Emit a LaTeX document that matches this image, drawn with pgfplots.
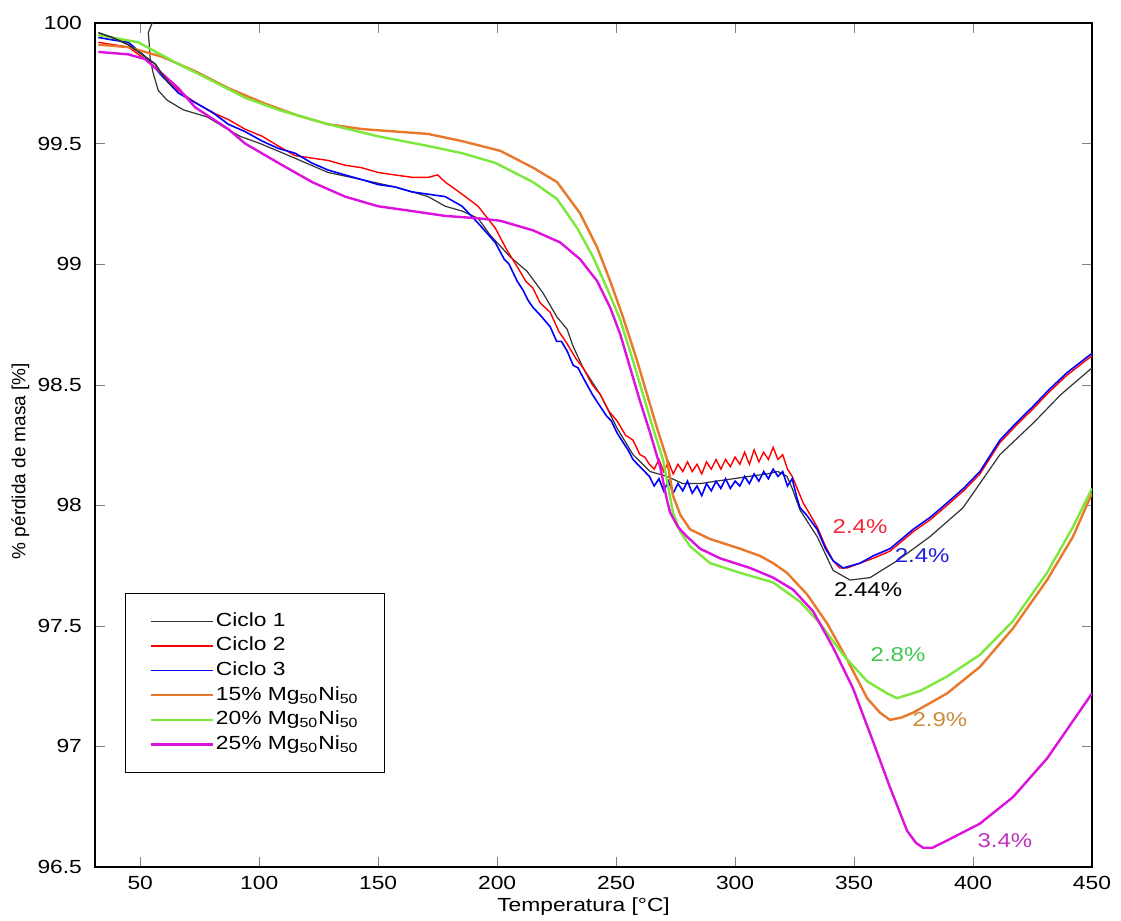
\documentclass[border=0pt]{standalone}
\usepackage{pgfplots}
\pgfplotsset{compat=1.18}
\usepackage{fontspec}
\setmainfont{Liberation Sans}[FakeStretch=1.2]
\newfontfamily\yfont{Liberation Sans}
\definecolor{cOne}{HTML}{333333}
\definecolor{cRed}{HTML}{FF0000}
\definecolor{cBlue}{HTML}{0000FF}
\definecolor{cOrange}{HTML}{E8782A}
\definecolor{cGreen}{HTML}{7CE83C}
\definecolor{cMag}{HTML}{DD11DD}
\definecolor{tRed}{HTML}{F02838}
\definecolor{tBlue}{HTML}{1E1EDC}
\definecolor{tGreen}{HTML}{3CC850}
\definecolor{tOrange}{HTML}{C88C3C}
\definecolor{tMag}{HTML}{BE32BE}
\begin{document}
\begin{tikzpicture}
\begin{axis}[
  name=ax,
  scale only axis,
  width=498.5pt, height=422pt,
  xmin=31, xmax=450, ymin=96.5, ymax=100,
  xtick={50,100,...,450},
  ytick={96.5,97,97.5,98,98.5,99,99.5,100},
  tick align=inside,
  major tick length=5pt,
  xtick pos=both, ytick pos=both,
  font=\fontsize{9.5}{11}\selectfont,
  /pgf/number format/assume math mode=true,
  /pgf/number format/fixed,
  yticklabel style={xshift=-3pt},
  xticklabel style={yshift=-1pt},
  xlabel={Temperatura [°C]},
  ylabel={\yfont\% pérdida de masa [\%]},
  xlabel style={at={(axis description cs:0.49,-0.047)}, anchor=center},
  ylabel style={at={(axis description cs:-0.075,0.481)}, anchor=center},
  axis line style={line width=0.8pt},
  legend cell align=left,
  legend image code/.code={\draw[#1] (0pt,0pt) -- (31pt,0pt);},
  legend style={at={(rel axis cs:0.03,0.325)}, anchor=north west,
    draw=black, line width=0.6pt, inner xsep=12pt, inner ysep=8.5pt,
    row sep=1.3pt,
    nodes={inner sep=1pt, text height=7pt, text depth=2pt},
    font=\fontsize{9.5}{11}\selectfont},
]
% Ciclo 1
\addplot[color=cOne, line width=0.6pt] coordinates {
(57.1,100.03)(55.0,100.00)(53.4,99.96)(53.8,99.91)(54.2,99.85)(55.5,99.79)(57.6,99.72)
(61.3,99.68)(68.1,99.64)(78.2,99.61)(86.6,99.56)(92.0,99.53)(100.4,99.50)(110.1,99.46)
(117.2,99.43)(129.0,99.38)(143.3,99.35)(157.1,99.32)(164.3,99.30)(171.0,99.28)
(178.2,99.24)(185.3,99.22)(192.0,99.19)(197.1,99.12)(205.5,99.03)(212.6,98.97)
(219.3,98.88)(225.2,98.78)(229.4,98.73)(231.9,98.66)(236.1,98.57)(243.3,98.46)
(250.4,98.32)(257.1,98.21)(264.3,98.14)(271.4,98.12)(278,98.09)(285.3,98.09)
(292,98.10)(299.2,98.11)(306,98.12)(313.4,98.13)(318,98.14)(321.8,98.12)(324,98.07)
(327.3,97.98)(334.5,97.87)(341.2,97.73)(348.3,97.69)(356.7,97.70)(368.1,97.77)
(381.9,97.87)(395.8,97.99)(411.3,98.21)(425.2,98.34)(437,98.46)(450,98.57)
};
\addlegendentry{Ciclo 1}
% Ciclo 2
\addplot[color=cRed, line width=0.7pt] coordinates {
(32.4,99.92)(45.0,99.90)(52,99.85)(59.2,99.79)(66,99.72)(73.1,99.67)(80,99.63)(87.0,99.60)
(94,99.56)(101.3,99.53)(108,99.49)(115.1,99.45)(122,99.44)(129.0,99.43)(136.1,99.41)
(143,99.40)(150.0,99.38)(157,99.37)(164.3,99.36)(171.0,99.36)(175,99.37)(178.2,99.34)
(185.3,99.29)(192.0,99.24)(199.2,99.15)(204,99.06)(208.4,98.99)(212,98.93)(215.1,98.90)
(218,98.84)(222.3,98.80)(226,98.72)(229.4,98.67)(233,98.61)(236.1,98.57)(240,98.50)
(243.3,98.46)(247,98.39)(250.4,98.35)(254,98.29)(257.1,98.27)(260,98.21)(262,98.20)
(264,98.17)(266,98.15)(268,98.19)(270,98.14)(272,98.18)(274,98.13)(276,98.17)(278,98.14)
(280,98.18)(282,98.14)(284,98.17)(286,98.13)(288,98.18)(290,98.15)(292,98.19)(294,98.15)
(296,98.19)(298,98.16)(300,98.20)(302,98.17)(304,98.22)(306,98.17)(308,98.23)(310,98.18)
(312,98.22)(314,98.19)(316,98.24)(318,98.19)(320,98.21)(322,98.15)(324,98.12)
(328.6,98.01)(331,97.97)(334.5,97.91)(338,97.83)(341.2,97.77)(344,97.74)(347.1,97.74)
(352.5,97.76)(358,97.78)(365.1,97.81)(370,97.85)(374.8,97.89)(382,97.94)(389.1,98.00)
(396,98.06)(402.9,98.13)(411.3,98.26)(418,98.33)(425.2,98.40)(432,98.47)(439.5,98.54)(450,98.62)
};
\addlegendentry{Ciclo 2}
% Ciclo 3
\addplot[color=cBlue, line width=0.8pt] coordinates {
(32.4,99.94)(38.2,99.93)(45.0,99.92)(52.1,99.86)(59.2,99.78)(66.0,99.71)(73.1,99.67)
(80.3,99.63)(87.0,99.58)(94,99.55)(101.3,99.51)(108,99.48)(115.1,99.46)(122,99.42)
(129.0,99.39)(136,99.37)(143.3,99.35)(150,99.33)(157.1,99.32)(164,99.30)(171.0,99.29)
(178.2,99.28)(185.3,99.24)(192.0,99.17)(199.2,99.09)(203,99.02)(205,99.00)(208.4,98.93)
(211,98.89)(213,98.85)(215.1,98.82)(218,98.79)(222.3,98.74)(225,98.68)(227,98.68)
(229.4,98.64)(232,98.58)(234,98.57)(236.1,98.53)(240,98.46)(243.3,98.41)(246,98.37)
(248,98.35)(250.4,98.30)(253,98.26)(255,98.23)(257.1,98.19)(260,98.16)(262,98.14)
(264,98.12)(266,98.08)(268,98.11)(270,98.06)(272,98.10)(274,98.05)(276,98.09)(278,98.06)
(280,98.10)(282,98.05)(284,98.08)(286,98.04)(288,98.09)(290,98.06)(292,98.10)(294,98.07)
(296,98.11)(298,98.07)(300,98.10)(302,98.08)(304,98.12)(306,98.09)(308,98.13)(310,98.10)
(312,98.14)(314,98.11)(316,98.15)(318,98.12)(320,98.14)(322,98.08)(324,98.11)(326,98.03)
(327.3,97.99)(330,97.96)(334.5,97.90)(338,97.82)(341.2,97.77)(345.4,97.74)(352.5,97.76)
(358,97.79)(365.1,97.82)(370,97.86)(374.8,97.90)(382,97.95)(389.1,98.01)(396,98.07)
(402.9,98.14)(411.3,98.27)(418,98.34)(425.2,98.41)(432,98.48)(439.5,98.55)(450,98.63)
};
\addlegendentry{Ciclo 3}
% 15%
\addplot[color=cOrange, line width=1.2pt] coordinates {
(32.4,99.91)(45.0,99.90)(59.2,99.86)(73.1,99.80)(87.0,99.73)(101.3,99.67)(115.1,99.62)
(129.0,99.58)(143.3,99.56)(157.1,99.55)(171.0,99.54)(185.3,99.51)(201.3,99.47)
(215.1,99.40)(225.2,99.34)(234.9,99.21)(242.0,99.07)(247.5,98.93)(252.9,98.78)
(258.8,98.60)(263.0,98.46)(267.2,98.32)(271.4,98.19)(273.9,98.04)(277,97.96)(281.1,97.90)
(289.5,97.86)(302.1,97.82)(310.5,97.79)(316,97.76)(321.8,97.72)(330.3,97.63)(338.7,97.51)
(347.1,97.36)(355.5,97.20)(360.9,97.14)(365.1,97.11)(370,97.12)(374.8,97.14)(389.1,97.22)
(402.9,97.33)(416.8,97.49)(431.1,97.69)(442.0,97.87)(450,98.05)
};
\addlegendentry{15\% Mg\textsubscript{50}Ni\textsubscript{50}}
% 20%
\addplot[color=cGreen, line width=1.2pt] coordinates {
(32.4,99.95)(49.2,99.92)(66.0,99.83)(80.3,99.76)(94.1,99.69)(108.0,99.64)(129.0,99.58)
(150.0,99.53)(171.0,99.49)(185.3,99.46)(199.2,99.42)(215.1,99.34)(225.2,99.27)
(233.6,99.15)(240.3,99.03)(246.2,98.90)(251.7,98.77)(257.1,98.60)(261.3,98.46)
(265.5,98.32)(269.7,98.19)(273.9,97.97)(277,97.89)(281.1,97.83)(289.5,97.76)(302.1,97.72)
(316.0,97.68)(327.3,97.60)(335.7,97.51)(345.4,97.38)(355.5,97.27)(363.9,97.22)
(368.1,97.20)(377.7,97.23)(389.1,97.29)(402.9,97.38)(416.8,97.52)(431.1,97.72)
(442.0,97.91)(450,98.07)
};
\addlegendentry{20\% Mg\textsubscript{50}Ni\textsubscript{50}}
% 25%
\addplot[color=cMag, line width=1.2pt] coordinates {
(32.4,99.88)(45.0,99.87)(52.1,99.85)(59.2,99.79)(66.0,99.73)(73.1,99.65)(87.0,99.56)
(94.1,99.50)(108.0,99.42)(122.3,99.34)(136.1,99.28)(150.0,99.24)(164.3,99.22)(178.2,99.20)
(192.0,99.19)(201.3,99.18)(215.1,99.14)(226.5,99.09)(234.9,99.02)(242.0,98.93)(247.5,98.82)
(251.7,98.71)(255.9,98.57)(260.1,98.43)(264.3,98.30)(268.5,98.16)(271.4,98.02)(272.7,97.97)
(276,97.91)(279.8,97.87)(285.3,97.82)(293.7,97.78)(306.3,97.74)(316.0,97.70)(324.4,97.65)
(332.8,97.56)(341.2,97.41)(349.6,97.24)(358.0,97.02)(365.1,96.83)(372.3,96.65)(376,96.60)
(379.0,96.58)(383,96.58)(389.1,96.61)(402.9,96.68)(416.8,96.79)(431.1,96.95)(450,97.22)
};
\addlegendentry{25\% Mg\textsubscript{50}Ni\textsubscript{50}}
% Ciclo 1, first stretch
\addplot[color=cOne, line width=0.8pt, forget plot] coordinates {
(32.4,99.96)(38.2,99.94)(45.0,99.91)(52.1,99.86)(56.3,99.83)(59,99.79)(63,99.74)
};
\node[text=tRed, font=\fontsize{10}{12}\selectfont] at (axis cs:352.5,97.91) {2.4\%};
\node[text=tBlue, font=\fontsize{10}{12}\selectfont] at (axis cs:378.6,97.79) {2.4\%};
\node[text=black, font=\fontsize{10}{12}\selectfont] at (axis cs:355.9,97.65) {2.44\%};
\node[text=tGreen, font=\fontsize{10}{12}\selectfont] at (axis cs:368.5,97.38) {2.8\%};
\node[text=tOrange, font=\fontsize{10}{12}\selectfont] at (axis cs:386.1,97.11) {2.9\%};
\node[text=tMag, font=\fontsize{10}{12}\selectfont] at (axis cs:413.4,96.61) {3.4\%};
\end{axis}
\pgfresetboundingbox
\path[use as bounding box] ([shift={(-47.5pt,-26.5pt)}]ax.south west) rectangle ([shift={(14.5pt,11.5pt)}]ax.north east);
\end{tikzpicture}
\end{document}
